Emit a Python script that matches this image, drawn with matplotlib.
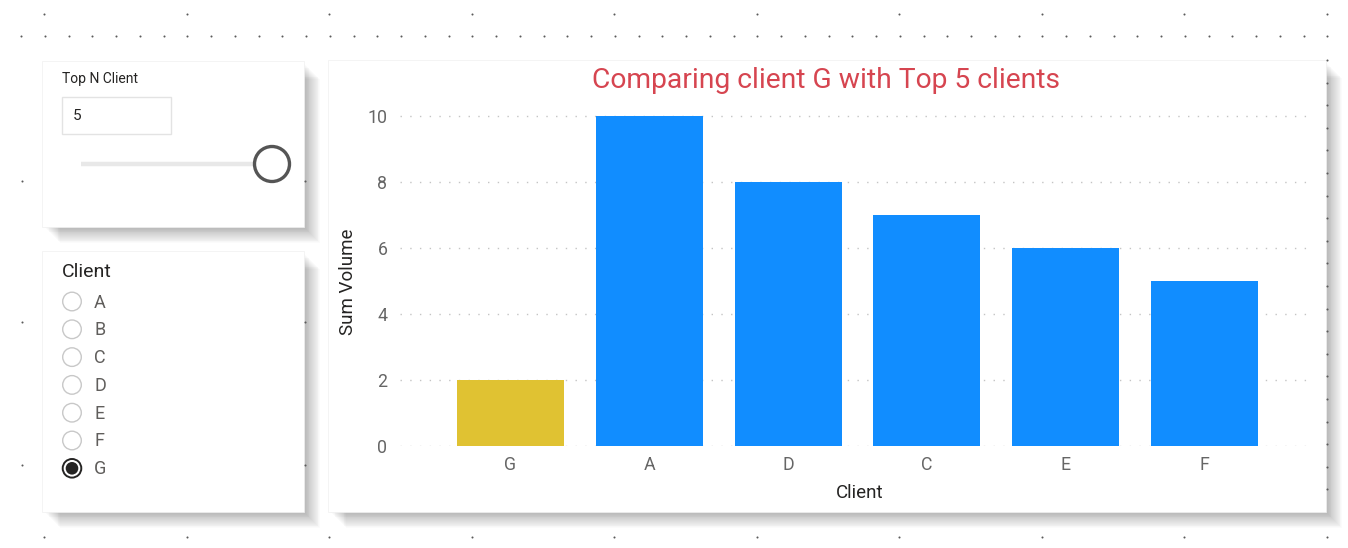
import matplotlib
matplotlib.use("Agg")
import matplotlib.pyplot as plt
from matplotlib.patches import Rectangle, Circle
import numpy as np

# ---- data ----
categories = ["G", "A", "D", "C", "E", "F"]
values = [2, 10, 8, 7, 6, 5]
highlight = "G"
yticks = [0, 2, 4, 6, 8, 10]
slicer_clients = ["A", "B", "C", "D", "E", "F", "G"]
top_n = 5
title = "Comparing client G with Top 5 clients"

BLUE = "#118DFF"
YELLOW = "#E0C232"
FONT = ["Roboto", "DejaVu Sans"]

W, H = 1348, 548
fig = plt.figure(figsize=(W / 100, H / 100), dpi=100)
fig.patch.set_facecolor("white")
bg = fig.add_axes([0, 0, 1, 1])
bg.set_xlim(0, W)
bg.set_ylim(H, 0)
bg.axis("off")

# ---- canvas dots ----
dot_c = "#5a5a5a"
xs_dense = np.arange(21, 1335, 23.75)
bg.scatter(xs_dense, np.full(len(xs_dense), 36), s=2.2, c=dot_c, lw=0, zorder=1)
xs_sparse = np.arange(44, 1335, 142.5)
for yy in (14, 537):
    bg.scatter(xs_sparse, np.full(len(xs_sparse), yy), s=2.2, c=dot_c, lw=0, zorder=1)
ys_col = np.arange(60, 500, 22.6)
bg.scatter(np.full(len(ys_col), 1327), ys_col, s=2.2, c=dot_c, lw=0, zorder=8)
for (px, py) in [(22, 181), (22, 322), (22, 465), (305, 181), (305, 322), (305, 465)]:
    bg.scatter([px], [py], s=2.2, c=dot_c, lw=0, zorder=8)


def panel(x0, y0, x1, y1):
    w, h = x1 - x0, y1 - y0
    for k in range(1, 19):
        bg.add_patch(Rectangle((x0 + 2 + k * 0.9, y0 + 2 + k * 0.9), w - 2, h - 2,
                               facecolor="black", alpha=0.016, lw=0, zorder=2))
    bg.add_patch(Rectangle((x0, y0), w, h, facecolor="white",
                           edgecolor="#f0f0f0", lw=0.5, zorder=3))


# ---- Top N slicer ----
panel(42, 61, 304, 227)
bg.text(62, 79, "Top N Client", fontsize=10, color="#252423", family=FONT,
        va="center", ha="left", zorder=5)
bg.add_patch(Rectangle((62, 97), 109, 37, facecolor="white", edgecolor="#e3e3e3",
                       lw=1, zorder=4))
bg.text(73, 116.5, str(top_n), fontsize=11, color="#252423", family=FONT,
        va="center", ha="left", zorder=5)
bg.plot([81, 258], [164, 164], color="#e8e8e8", lw=3.2, solid_capstyle="butt", zorder=4)
bg.add_patch(Circle((272, 164), 17.5, facecolor="white", edgecolor="#555555",
                    lw=2.4, zorder=5))

# ---- Client slicer ----
panel(42, 251, 304, 512)
bg.text(62, 272, "Client", fontsize=14, color="#252423", family=FONT,
        va="center", ha="left", zorder=5)
for i, c in enumerate(slicer_clients):
    cy = 301.5 + i * 27.8
    if c == highlight:
        bg.add_patch(Circle((72, cy), 9.3, facecolor="white", edgecolor="#252423",
                            lw=1.4, zorder=5))
        bg.add_patch(Circle((72, cy), 6.3, facecolor="#252423", lw=0, zorder=6))
    else:
        bg.add_patch(Circle((72, cy), 9.3, facecolor="white", edgecolor="#c8c8c8",
                            lw=1.0, zorder=5))
    bg.text(94, cy + 1, c, fontsize=13, color="#605e5c", family=FONT,
            va="center", ha="left", zorder=5)

# ---- chart panel ----
panel(328, 60, 1326, 512)
fig.text(826 / W, 1 - 80.5 / H, title, fontsize=20.3, color="#D64550", family=FONT,
         ha="center", va="center", zorder=10)
fig.text(348 / W, 1 - 282 / H, "Sum Volume", fontsize=13.5, color="#252423",
         family=FONT, rotation=90, ha="center", va="center", zorder=10)
fig.text(860 / W, 1 - 493 / H, "Client", fontsize=13.5, color="#252423",
         family=FONT, ha="center", va="center", zorder=10)

ax_l, ax_r, ax_b, ax_t = 400, 1310, 446, 106
ax = fig.add_axes([ax_l / W, 1 - ax_b / H, (ax_r - ax_l) / W, (ax_b - ax_t) / H])
ax.patch.set_alpha(0)
ax.set_zorder(10)
x = np.arange(len(categories))
colors = [YELLOW if c == highlight else BLUE for c in categories]
ax.bar(x, values, width=0.77, color=colors, zorder=3)
ax.set_xlim(-0.796, 5.76)
ax.set_ylim(0, (ax_b - ax_t) / 33.0)
ax.set_yticks(yticks)
ax.set_yticklabels([str(v) for v in yticks])
ax.set_xticks(x)
ax.set_xticklabels(categories)
for s in ax.spines.values():
    s.set_visible(False)
ax.tick_params(axis="both", length=0, labelsize=12.8, colors="#666666")
ax.tick_params(axis="y", pad=9)
ax.tick_params(axis="x", pad=7)
for lab in ax.get_xticklabels() + ax.get_yticklabels():
    lab.set_family(FONT)
ax.yaxis.grid(True, linestyle=(0, (1, 6)), color="#c4c4c4", lw=1, zorder=0)
ax.set_axisbelow(True)

fig.savefig("out.png", dpi=100, facecolor="white")
